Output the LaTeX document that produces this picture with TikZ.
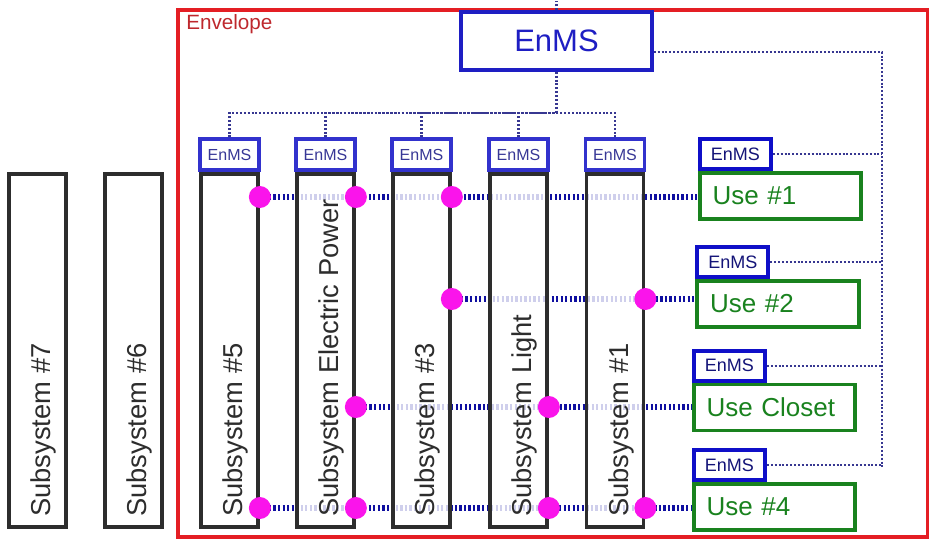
\documentclass[tikz,border=0pt]{standalone}
\usepackage{fontspec}
\setmainfont{Liberation Sans}
\usetikzlibrary{positioning,backgrounds}
\definecolor{envred}{RGB}{228,30,36}
\definecolor{envtext}{RGB}{190,40,45}
\definecolor{subgray}{RGB}{45,45,45}
\definecolor{enmsblue}{RGB}{50,50,205}
\definecolor{enmstext}{RGB}{55,55,150}
\definecolor{bigblue}{RGB}{30,30,195}
\definecolor{useblue}{RGB}{15,15,200}
\definecolor{usetext}{RGB}{20,20,120}
\definecolor{usegreen}{RGB}{25,130,30}
\definecolor{jointpink}{RGB}{250,20,235}
\definecolor{linkblue}{RGB}{15,15,160}
\definecolor{ctrlblue}{RGB}{55,55,145}

\tikzset{
    subbox/.style={draw=subgray, line width=2.8pt, fill=white, fill opacity=0.8,
                   minimum width=42.75pt, minimum height=264.75pt, inner sep=0pt},
    sublabel/.style={rotate=90, anchor=base west, inner sep=0pt, text=subgray,
                     font=\fontsize{20.5}{24}\selectfont},
    enmssmall/.style={draw=enmsblue, line width=2.8pt, fill=white, text=enmstext,
                      minimum width=44.25pt, minimum height=23.25pt, inner sep=0pt,
                      font=\fontsize{12}{14}\selectfont},
    enmsbig/.style={draw=bigblue, line width=2.8pt, fill=white, text=bigblue,
                    minimum width=143.25pt, minimum height=43.5pt, inner sep=0pt,
                    font=\fontsize{23.25}{28}\selectfont},
    enmsuse/.style={draw=useblue, line width=3pt, fill=white, text=usetext,
                    minimum width=53.25pt, minimum height=22.5pt, inner sep=0pt,
                    font=\fontsize{13.5}{16}\selectfont},
    usebox/.style={draw=usegreen, line width=2.8pt, fill=white, text=usegreen,
                   text width=102pt, align=left, inner xsep=9.5pt, inner ysep=0pt,
                   minimum height=34.5pt, font=\fontsize{19.5}{23}\selectfont},
    joint/.style={circle, fill=jointpink, minimum size=16.5pt, inner sep=0pt},
    link/.style={linkblue, line width=4.2pt, dash pattern=on 1.7pt off 1.7pt},
    ctrl/.style={ctrlblue, line width=1.6pt, dash pattern=on 1.5pt off 1.4pt},
}

\begin{document}
\begin{tikzpicture}[x=0.75pt, y=-0.75pt]
    \useasboundingbox (0,0) rectangle (929,540);

    \draw[envred, line width=2.3pt] (178,10) rectangle (928,537);
    \node[anchor=base west, inner sep=0pt, text=envtext,
          font=\fontsize{15.5}{18}\selectfont] (envlabel) at (186,29) {Envelope};

    \foreach \name/\cx/\txt in {s7/37.5/Subsystem \#7,
                                s6/133.5/Subsystem \#6,
                                s5/229.5/Subsystem \#5,
                                sep/325.5/Subsystem Electric Power,
                                s3/421.5/Subsystem \#3,
                                slight/518.5/Subsystem Light,
                                s1/615/Subsystem \#1}{
        \node[subbox] (\name) at (\cx,350.5) {};
        \node[sublabel] (\name-t) at (\cx+13,517) {\txt};
    }

    \node[enmsbig] (big) at (556.5,41) {EnMS};
    \coordinate (bus) at (big.south |- 0,113);
    \draw[ctrl] (big.north) -- (big.north |- 0,1);
    \draw[ctrl] (big.south) -- (bus);

    \foreach \name in {s5,sep,s3,slight,s1}{
        \node[enmssmall, above=0pt of \name] (\name-e) {EnMS};
        \draw[ctrl] (\name-e.north) |- (bus);
    }

    \foreach \name/\cx/\cy/\txt in {u1/780.5/196/Use \#1,
                                    u2/778/304/Use \#2,
                                    u3/774.5/407.5/Use Closet,
                                    u4/774.5/507/Use \#4}{
        \node[usebox] (\name) at (\cx,\cy) {\txt};
        \node[enmsuse, anchor=south west] (\name-e) at (\name.north west) {EnMS};
    }

    \coordinate (rbus) at (882,469);
    \draw[ctrl] ([yshift=-8pt]big.east) -| (rbus);
    \foreach \name in {u1,u2,u3,u4}
        \draw[ctrl] (\name-e.east) -- (\name-e.east -| rbus);

    \foreach \name/\row/\y in {s5/1/197, sep/1/197, s3/1/197,
                               s3/2/299, s1/2/299,
                               sep/3/407, slight/3/407,
                               s5/4/508, sep/4/508, slight/4/508, s1/4/508}
        \node[joint] (\name-\row) at (\name.east |- 0,\y) {};

    \begin{scope}[on background layer]
        \draw[link] (s5-1.center) -- (u1.west |- s5-1.center);
        \draw[link] (s3-2.center) -- (u2.west |- s3-2.center);
        \draw[link] (sep-3.center) -- (u3.west |- sep-3.center);
        \draw[link] (s5-4.center) -- (u4.west |- s5-4.center);
    \end{scope}
\end{tikzpicture}
\end{document}
